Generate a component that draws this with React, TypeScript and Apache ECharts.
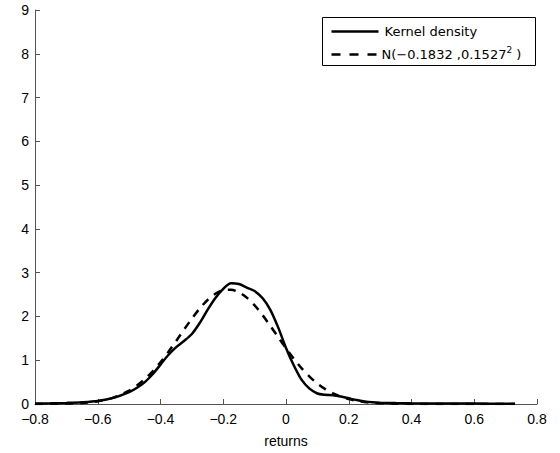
import React, { useEffect, useRef } from "react";
import * as echarts from "echarts";

const returnsGrid: number[] = [
  -0.8, -0.75, -0.7, -0.65, -0.6, -0.55, -0.5, -0.475, -0.45, -0.425, -0.4,
  -0.375, -0.35, -0.325, -0.3, -0.275, -0.25, -0.225, -0.2, -0.175, -0.15,
  -0.125, -0.1, -0.075, -0.05, -0.025, 0, 0.025, 0.05, 0.075, 0.1, 0.125,
  0.15, 0.175, 0.2, 0.225, 0.25, 0.275, 0.3, 0.35, 0.4, 0.5, 0.6, 0.7, 0.73,
];

const kernelDensity: number[] = [
  0.01, 0.015, 0.025, 0.04, 0.07, 0.14, 0.27, 0.37, 0.5, 0.68, 0.9,
  1.12, 1.3, 1.44, 1.6, 1.85, 2.15, 2.42, 2.63, 2.76, 2.74,
  2.66, 2.58, 2.42, 2.15, 1.75, 1.28, 0.88, 0.55, 0.35, 0.24, 0.21,
  0.2, 0.17, 0.13, 0.09, 0.06, 0.04, 0.03, 0.02, 0.015, 0.01, 0.01, 0.005, 0.005,
];

const normalDensity: number[] = [
  0.001, 0.003, 0.009, 0.024, 0.063, 0.146, 0.304, 0.421, 0.568, 0.746, 0.954,
  1.187, 1.44, 1.698, 1.95, 2.181, 2.375, 2.517, 2.597, 2.609, 2.551,
  2.429, 2.252, 2.032, 1.786, 1.528, 1.272, 1.032, 0.814, 0.625, 0.468, 0.341,
  0.242, 0.167, 0.112, 0.073, 0.047, 0.029, 0.017, 0.006, 0.002, 0.0, 0.0, 0.0, 0.0,
];

const legendLabels: string[] = ["Kernel density", "N(−0.1832 ,0.1527", "2", " )"];
const xAxisTitle = "returns";

const fmtX = (v: number) => {
  if (Math.abs(v) < 1e-9) return "0";
  return (v < 0 ? "−" : "") + Math.abs(v).toFixed(1);
};

export default function App() {
  const ref = useRef<HTMLDivElement>(null);
  useEffect(() => {
    if (!ref.current) return;
    const chart = echarts.init(ref.current, null, { renderer: "svg" });
    const axisColor = "#555";
    const font = "'Liberation Sans', Arial, sans-serif";
    chart.setOption({
      animation: false,
      backgroundColor: "#fff",
      grid: { left: 35, right: 23, top: 10, bottom: 46, containLabel: false },
      xAxis: {
        type: "value",
        min: -0.8,
        max: 0.8,
        interval: 0.2,
        name: xAxisTitle,
        nameLocation: "middle",
        nameGap: 30,
        nameTextStyle: { color: "#000", fontSize: 14, fontFamily: font },
        axisLine: { show: true, lineStyle: { color: axisColor, width: 1 } },
        axisTick: { show: true, inside: true, length: 5, lineStyle: { color: axisColor } },
        axisLabel: { color: "#000", fontSize: 14, fontFamily: font, margin: 8, formatter: fmtX },
        splitLine: { show: false },
      },
      yAxis: {
        type: "value",
        min: 0,
        max: 9,
        interval: 1,
        axisLine: { show: true, onZero: false, lineStyle: { color: axisColor, width: 1 } },
        axisTick: { show: true, inside: true, length: 5, lineStyle: { color: axisColor } },
        axisLabel: { color: "#000", fontSize: 14, fontFamily: font, margin: 6 },
        splitLine: { show: false },
      },
      series: [
        {
          name: legendLabels[0],
          type: "line",
          data: returnsGrid.map((x, i) => [x, kernelDensity[i]]),
          showSymbol: false,
          smooth: 0.3,
          lineStyle: { color: "#000", width: 2.5 },
          itemStyle: { color: "#000" },
          z: 3,
        },
        {
          name: "normal",
          type: "line",
          data: returnsGrid.map((x, i) => [x, normalDensity[i]]),
          showSymbol: false,
          smooth: 0.3,
          lineStyle: { color: "#000", width: 2.5, type: [8, 7] },
          itemStyle: { color: "#000" },
          z: 2,
        },
      ],
      graphic: [
        {
          type: "group",
          left: 322,
          top: 17,
          children: [
            {
              type: "rect",
              shape: { x: 0, y: 0, width: 213, height: 48 },
              style: { fill: "#fff", stroke: "#000", lineWidth: 1 },
            },
            {
              type: "line",
              shape: { x1: 9, y1: 14, x2: 56, y2: 14 },
              style: { stroke: "#000", lineWidth: 2.5 },
            },
            {
              type: "text",
              x: 62,
              y: 14,
              style: {
                text: legendLabels[0],
                fill: "#000",
                font: "13px 'DejaVu Sans', sans-serif",
                verticalAlign: "middle",
              },
            },
            {
              type: "line",
              shape: { x1: 9, y1: 37, x2: 56, y2: 37 },
              style: { stroke: "#000", lineWidth: 2.5, lineDash: [9, 9] },
            },
            {
              type: "text",
              x: 59,
              y: 37,
              style: {
                text: "{a|" + legendLabels[1] + "}{b|" + legendLabels[2] + "}{a|" + legendLabels[3] + "}",
                fill: "#000",
                verticalAlign: "middle",
                rich: {
                  a: { fontSize: 13, fontFamily: "DejaVu Sans", lineHeight: 18, fill: "#000" },
                  b: { fontSize: 9, fontFamily: "DejaVu Sans", lineHeight: 18, verticalAlign: "top", fill: "#000" },
                },
              },
            },
          ],
        },
      ],
    });
    return () => chart.dispose();
  }, []);
  return (
    <div
      ref={ref}
      style={{ position: "fixed", left: 0, top: 0, width: 560, height: 453, background: "#fff" }}
    />
  );
}
